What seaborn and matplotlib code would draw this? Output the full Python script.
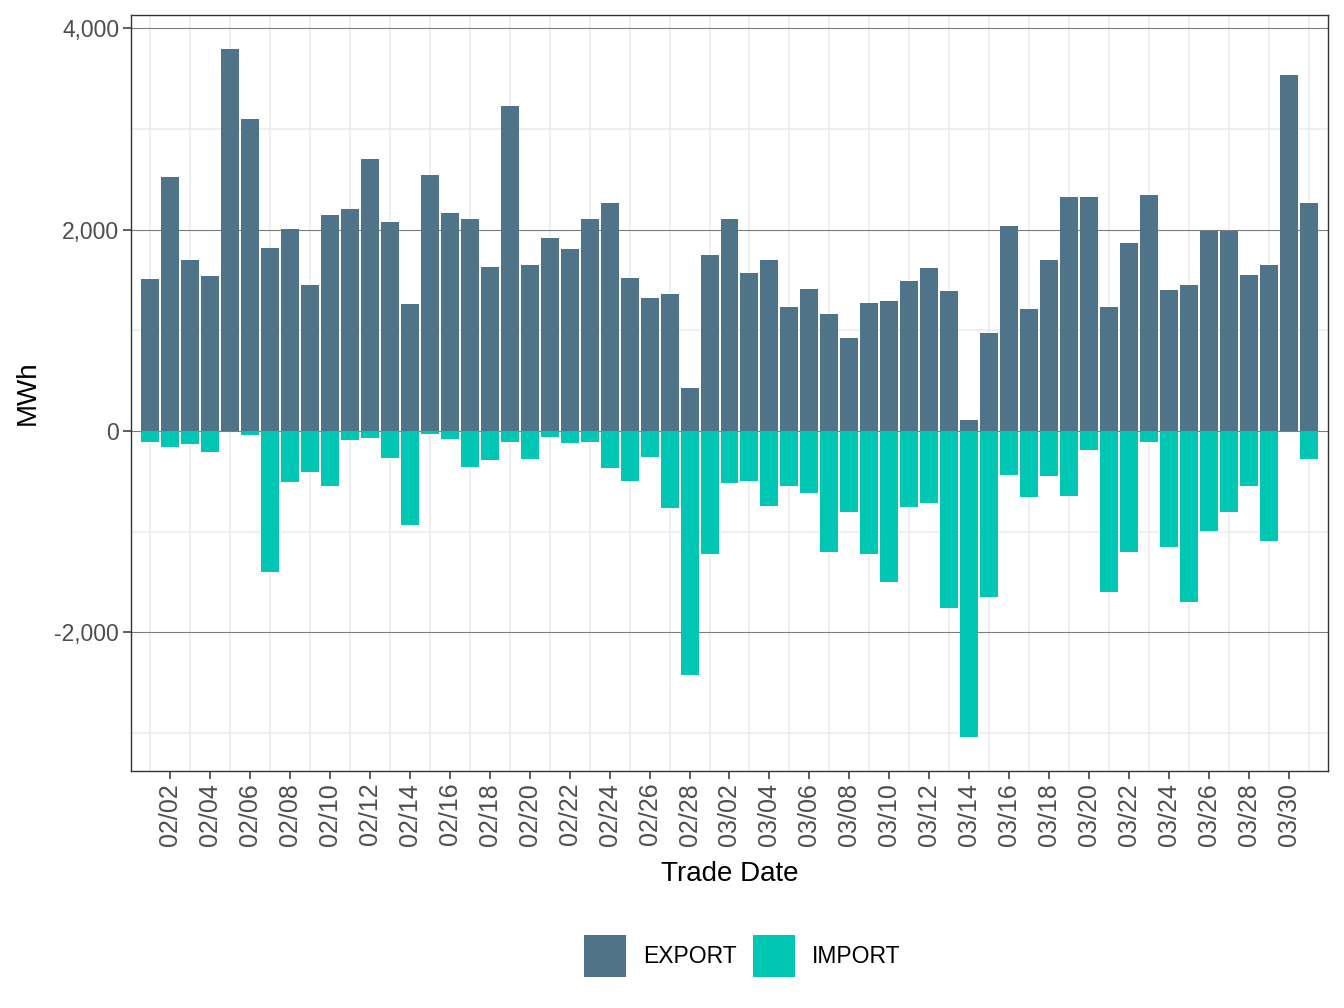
import pandas as pd
import seaborn as sns
import matplotlib.pyplot as plt
from matplotlib.ticker import FuncFormatter

# trade dates, feb 1 to mar 31 (28 day feb)
tradeDates = [f'02/{d:02d}' for d in range(1, 29)] + [f'03/{d:02d}' for d in range(1, 32)]

# daily export volume (MWh)
exportMWh = [1510, 2523, 1699, 1540, 3794, 3099, 1818, 2006, 1450, 2146,
             2205, 2702, 2076, 1261, 2543, 2165, 2106, 1629, 3228, 1649,
             1917, 1808, 2106, 2265, 1520, 1321, 1361, 427, 1748, 2106,
             1569, 1699, 1232, 1410, 1162, 924, 1271, 1291, 1490, 1619,
             1391, 109, 973, 2036, 1212, 1699, 2324, 2324, 1232, 1867,
             2344, 1401, 1450, 1987, 1987, 1550, 1649, 3536, 2265]

# daily import volume (MWh), negative
importMWh = [-106, -155, -125, -205, 0, -36, -1403, -508, -409, -541,
             -86, -66, -264, -937, -26, -76, -353, -284, -106, -274,
             -56, -116, -106, -363, -492, -254, -769, -2422, -1224, -512,
             -492, -749, -541, -620, -1205, -809, -1224, -1502, -759, -710,
             -1759, -3036, -1650, -432, -660, -442, -650, -185, -1601, -1205,
             -106, -1155, -1700, -997, -809, -541, -1096, 0, -274]

flowTypes = ['EXPORT', 'IMPORT']
flowColors = {'EXPORT': '#4f748a', 'IMPORT': '#00c7b3'}

# long table for seaborn
df = pd.DataFrame({
    'Trade Date': tradeDates * 2,
    'MWh': exportMWh + importMWh,
    'Type': ['EXPORT'] * len(tradeDates) + ['IMPORT'] * len(tradeDates),
})

sns.set_style('white')
plt.rcParams['font.family'] = ['Liberation Sans', 'DejaVu Sans']

fig = plt.figure(figsize=(13.44, 10.08), dpi=100)
W, H = 1344, 1008
ax = fig.add_axes([131 / W, 1 - 771 / H, (1328 - 131) / W, (771 - 15) / H])

sns.barplot(data=df, x='Trade Date', y='MWh', hue='Type', hue_order=flowTypes,
            order=tradeDates, palette=flowColors, dodge=False, width=0.9,
            saturation=1, errorbar=None, linewidth=0, ax=ax)

ax.set_xlim(-0.95, len(tradeDates) - 1 + 0.95)
ax.set_ylim(-3377, 4133)

# ticks every other day starting 02/02, grid lines on the days between
ax.set_xticks(range(1, len(tradeDates), 2))
ax.set_xticklabels(tradeDates[1::2])
ax.set_xticks(range(0, len(tradeDates), 2), minor=True)
ax.set_yticks([-2000, 0, 2000, 4000])
ax.set_yticks([-3000, -1000, 1000, 3000], minor=True)
ax.yaxis.set_major_formatter(FuncFormatter(lambda v, p: f'{v:,.0f}'))

ax.set_axisbelow(True)
ax.grid(False)
ax.grid(axis='y', which='major', color='#7d7d7d', linewidth=0.8)
ax.grid(axis='y', which='minor', color='#ebebeb', linewidth=1.1)
ax.grid(axis='x', which='minor', color='#ebebeb', linewidth=1.1)

# seaborn's white style hides ticks, turn them back on
ax.tick_params(axis='both', which='major', bottom=True, left=True, direction='out',
               length=5.5, width=1.1, color='#333333', labelcolor='#4d4d4d', pad=3)
ax.tick_params(axis='both', which='minor', length=0)
ax.tick_params(axis='x', which='major', labelrotation=90, labelsize=18)
ax.tick_params(axis='y', which='major', labelsize=16.5)

for s in ax.spines.values():
    s.set_color('#333333')
    s.set_linewidth(1.0)

ax.set_xlabel('Trade Date', fontsize=20, color='black', labelpad=11)
ax.set_ylabel('MWh', fontsize=20, color='black', labelpad=10)

# legend below the plot, square keys
handles, labels = ax.get_legend_handles_labels()
ax.get_legend().remove()
fig.legend(handles, labels, loc='center', bbox_to_anchor=(742 / W, 1 - 956 / H), ncol=2,
           frameon=False, fontsize=16.5, handlelength=1.83, handleheight=2.44,
           handletextpad=0.74, columnspacing=0.7, labelcolor='black')

fig.savefig('out.png', dpi=100)
